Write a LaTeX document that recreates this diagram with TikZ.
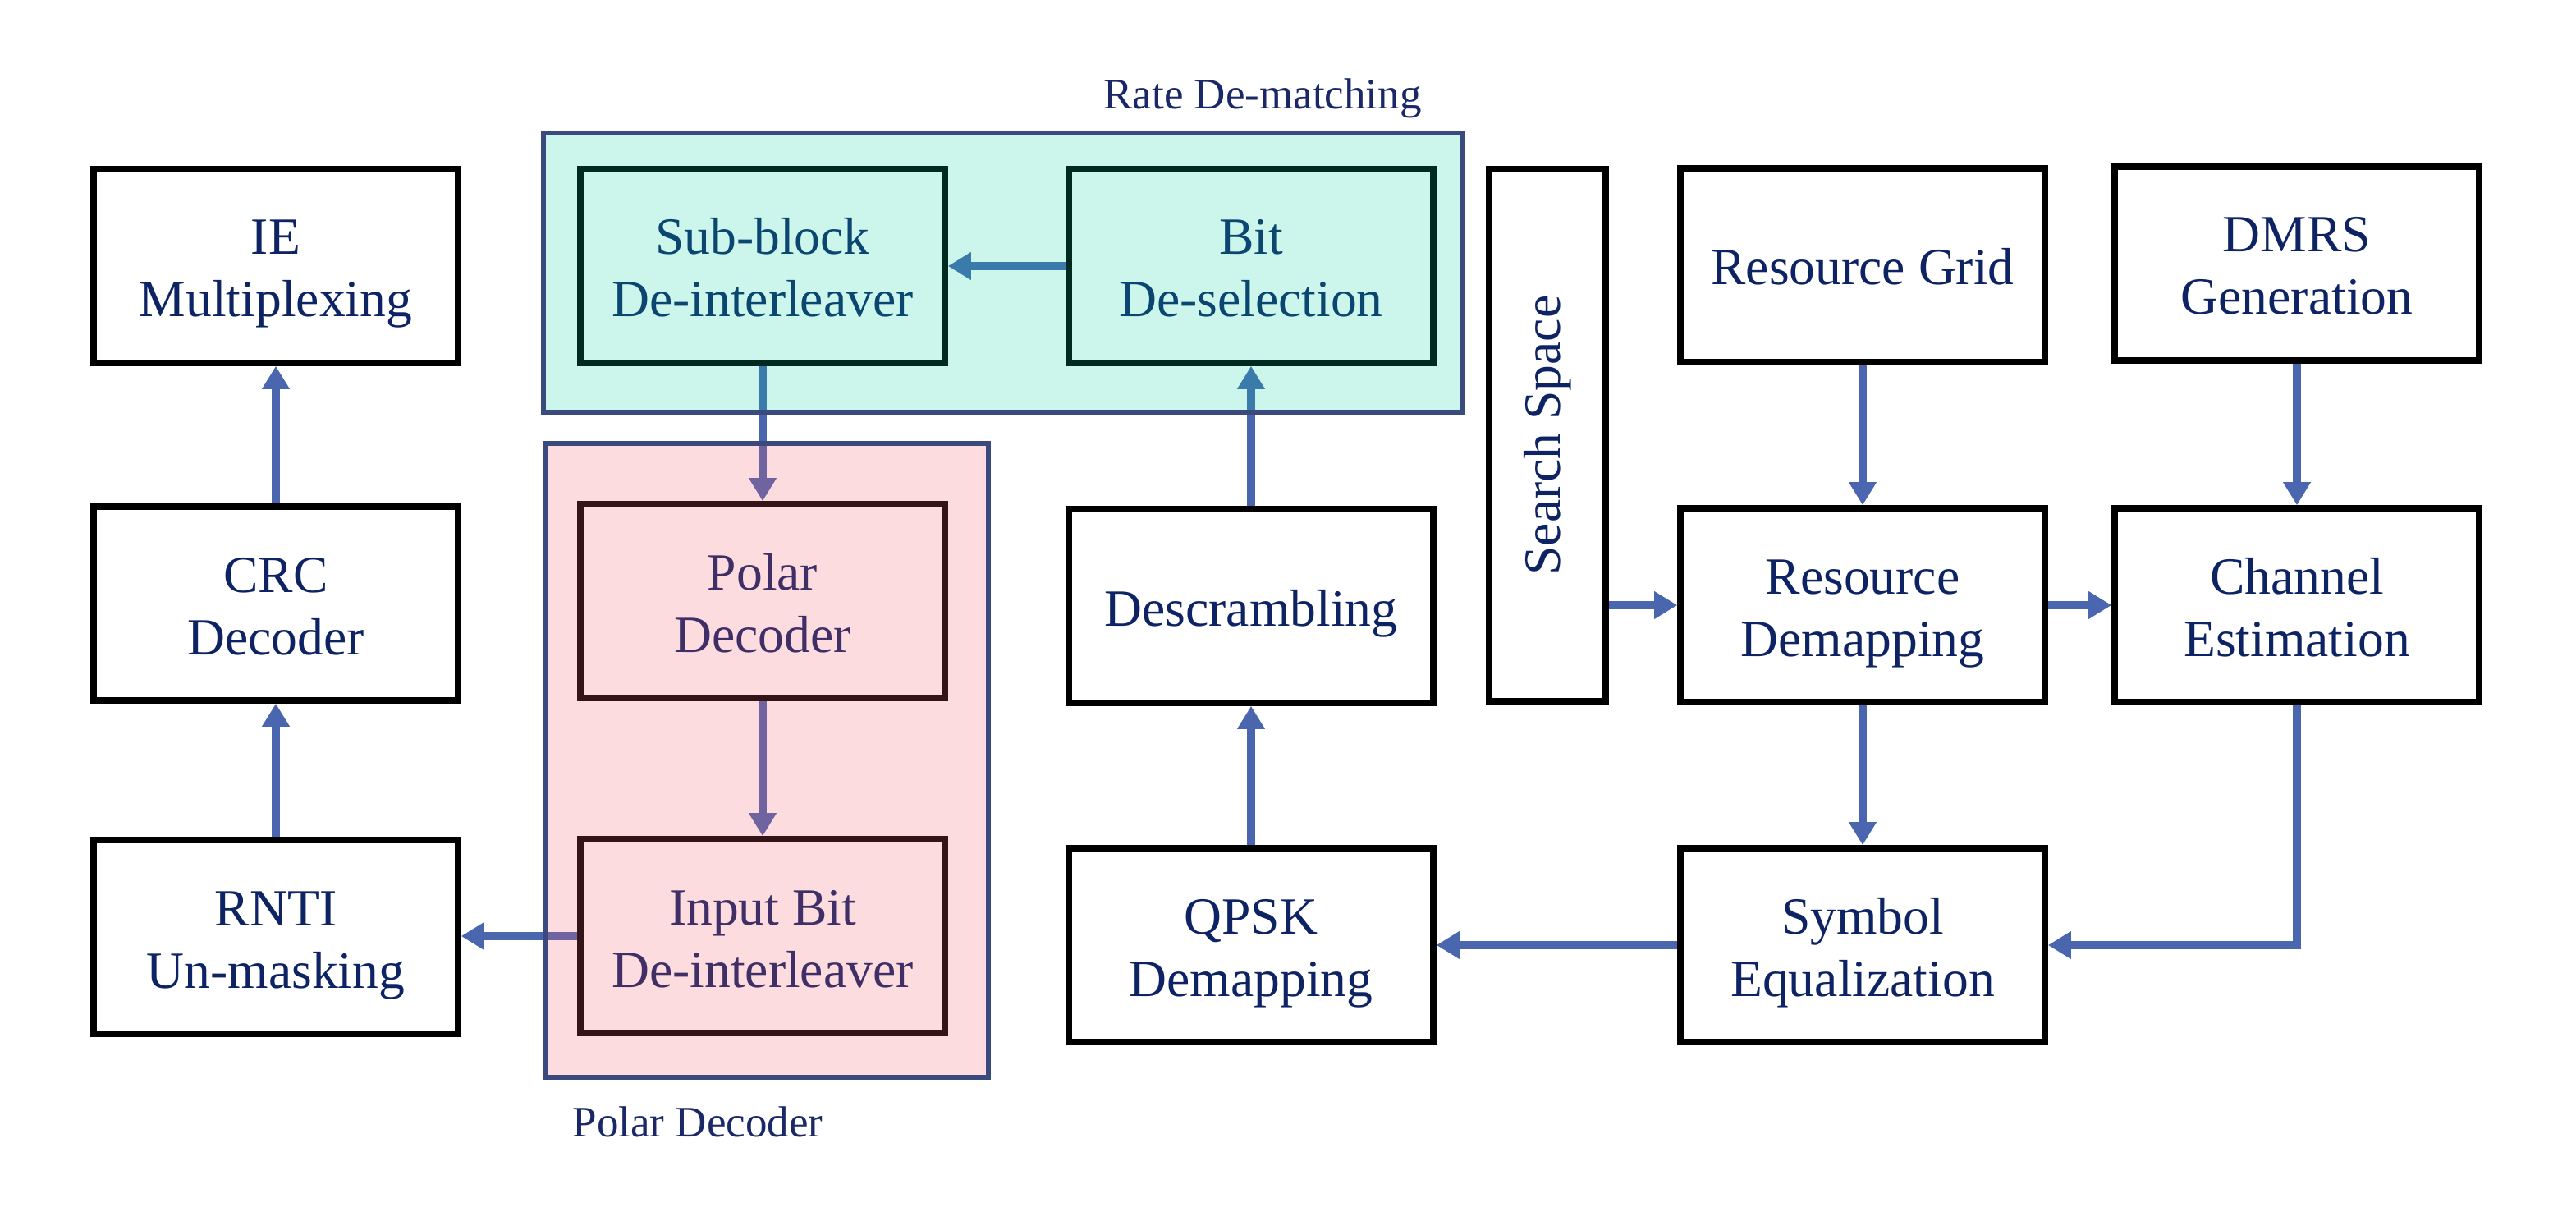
\documentclass[tikz,border=0pt]{standalone}
\usepackage{fontspec}
\setmainfont{Liberation Serif}
\usepackage{graphicx}
\usetikzlibrary{arrows.meta}
\definecolor{txt}{RGB}{13,35,100}
\definecolor{lbl}{RGB}{26,40,104}
\definecolor{arr}{RGB}{74,102,174}
\definecolor{cont}{RGB}{58,74,126}
\definecolor{tealc}{RGB}{0,210,160}
\definecolor{pinkc}{RGB}{246,93,112}
\newcommand\lnstrut{\rule[-7pt]{0pt}{38pt}}
\begin{document}
\begin{tikzpicture}[x=1pt,y=-1pt,
  blk/.style={draw=black, line width=3.8pt, fill=white, text=txt, align=center,
    font=\fontsize{31.8}{38}\selectfont, inner sep=0pt,
    minimum width=222pt, minimum height=118pt},
  flow/.style={draw=arr, line width=4.8pt, -{Triangle[width=16pt,length=14pt]}},
  container/.style={draw=cont, line width=2.6pt, draw opacity=1, inner sep=0pt},
  grouplabel/.style={text=lbl, font=\fontsize{26.5}{30}\selectfont, inner sep=0pt}]
\useasboundingbox (0,0) rectangle (1569,738);
\fill[white] (0,0) rectangle (1569,738);

% blocks
\node[blk] (ie) at (168,162) {\lnstrut IE\\\lnstrut Multiplexing};
\node[blk] (crc) at (168,367.5) {\lnstrut CRC\\\lnstrut Decoder};
\node[blk] (rnti) at (168,570.5) {\lnstrut RNTI\\\lnstrut Un-masking};
\node[blk] (sub) at (464.5,162) {\lnstrut Sub-block\\\lnstrut De-interleaver};
\node[blk] (bit) at (762,162) {\lnstrut Bit\\\lnstrut De-selection};
\node[blk] (pol) at (464.5,366) {\lnstrut Polar\\\lnstrut Decoder};
\node[blk] (ibd) at (464.5,570) {\lnstrut Input Bit\\\lnstrut De-interleaver};
\node[blk] (desc) at (762,369) {\lnstrut Descrambling};
\node[blk] (qpsk) at (762,575.5) {\lnstrut QPSK\\\lnstrut Demapping};
\node[blk, minimum width=71pt, minimum height=324pt] (ss) at (942.5,265) {\rotatebox{90}{\strut Search Space}};
\node[blk] (rg) at (1134.5,161.5) {\lnstrut Resource Grid};
\node[blk] (dmrs) at (1399,160.5) {\lnstrut DMRS\\\lnstrut Generation};
\node[blk] (rdm) at (1134.5,368.5) {\lnstrut Resource\\\lnstrut Demapping};
\node[blk] (ce) at (1399,368.5) {\lnstrut Channel\\\lnstrut Estimation};
\node[blk] (se) at (1134.5,575.5) {\lnstrut Symbol\\\lnstrut Equalization};

% connectors
\draw[flow] (crc) -- (ie);
\draw[flow] (rnti) -- (crc);
\draw[flow] (ibd.west) -- (rnti.east|-ibd.west);
\draw[flow] (sub) -- (pol);
\draw[flow] (pol) -- (ibd);
\draw[flow] (bit) -- (sub);
\draw[flow] (desc) -- (bit);
\draw[flow] (qpsk) -- (desc);
\draw[flow] (se) -- (qpsk);
\draw[flow] (ce.south) |- (se.east);
\draw[flow] (rdm) -- (se);
\draw[flow] (rdm) -- (ce);
\draw[flow] (ss.east|-rdm.west) -- (rdm.west);
\draw[flow] (rg) -- (rdm);
\draw[flow] (dmrs) -- (ce);

% translucent group containers
\node[container, fill=tealc, fill opacity=0.2, minimum width=560pt, minimum height=170pt] (rate) at (611,166) {};
\node[container, fill=pinkc, fill opacity=0.215, minimum width=270pt, minimum height=386pt] (polc) at (467,463) {};

\node[grouplabel] (ratelbl) at (769,60) {Rate De-matching};
\node[grouplabel] (pollbl) at (425,683) {Polar Decoder};
\end{tikzpicture}
\end{document}
